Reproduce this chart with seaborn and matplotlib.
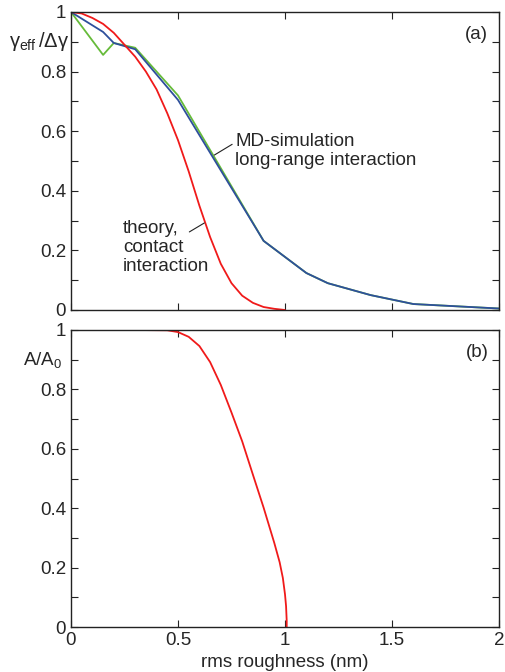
import numpy as np
import pandas as pd
import seaborn as sns
import matplotlib.pyplot as plt
from matplotlib.ticker import MultipleLocator

sns.set_style('ticks')
plt.rcParams['font.family'] = ['Liberation Sans', 'DejaVu Sans']
plt.rcParams['mathtext.fontset'] = 'custom'
plt.rcParams['mathtext.rm'] = 'Liberation Sans'
plt.rcParams['mathtext.it'] = 'Liberation Sans'

# panel (a): MD simulation, two runs
md_x = [0, 0.15, 0.2, 0.3, 0.5, 0.9, 1.1, 1.2, 1.4, 1.6, 2.0]
md_blue = [1.0, 0.933, 0.896, 0.875, 0.705, 0.232, 0.124, 0.09, 0.05, 0.02, 0.005]
md_green = [1.0, 0.856, 0.896, 0.88, 0.72, 0.232, 0.124, 0.09, 0.05, 0.02, 0.005]

# panel (a): theory, contact interaction
th_x = [0, 0.05, 0.1, 0.15, 0.2, 0.25, 0.3, 0.35, 0.4, 0.45, 0.5, 0.55,
        0.6, 0.65, 0.7, 0.75, 0.8, 0.85, 0.9, 0.95, 1.0]
th_y = [1.0, 0.995, 0.98, 0.96, 0.93, 0.89, 0.85, 0.80, 0.74, 0.66, 0.57, 0.465,
        0.35, 0.245, 0.155, 0.09, 0.048, 0.024, 0.01, 0.004, 0.0]

# panel (b): contact area
area_x = [0.05, 0.3, 0.45, 0.5, 0.55, 0.6, 0.65, 0.7, 0.75, 0.8, 0.85,
          0.9, 0.95, 0.975, 0.99, 1.0, 1.005, 1.008, 1.008]
area_y = [1.0, 1.0, 0.999, 0.993, 0.977, 0.946, 0.892, 0.815, 0.722, 0.625, 0.513,
          0.402, 0.283, 0.218, 0.165, 0.11, 0.07, 0.02, 0.0]

red = '#f01a1a'
blue = '#2e4f9c'
green = '#66bb3a'
fs = 13.5

fig = plt.figure(figsize=(5.06, 6.72), dpi=100)
ax1 = fig.add_axes([71/506, 1-310/672, 428/506, 298/672])
ax2 = fig.add_axes([71/506, 1-627/672, 428/506, 297/672])

sns.lineplot(x=md_x, y=md_green, ax=ax1, color=green, lw=1.3, sort=False, estimator=None)
sns.lineplot(x=md_x, y=md_blue, ax=ax1, color=blue, lw=1.3, sort=False, estimator=None)
sns.lineplot(x=th_x, y=th_y, ax=ax1, color=red, lw=1.3, sort=False, estimator=None)
sns.lineplot(x=area_x, y=area_y, ax=ax2, color=red, lw=1.3, sort=False, estimator=None)

for ax in (ax1, ax2):
    ax.set_xlim(0, 2)
    ax.set_ylim(0, 1)
    ax.xaxis.set_major_locator(MultipleLocator(0.5))
    ax.yaxis.set_major_locator(MultipleLocator(0.2))
    ax.yaxis.set_minor_locator(MultipleLocator(0.1))
    ax.tick_params(which='both', direction='in', top=True, right=True,
                   labelsize=fs, width=0.8, color='#222222', length=5)
    ax.yaxis.set_major_formatter(plt.FuncFormatter(lambda v, p: f'{v:g}'))
    ax.xaxis.set_major_formatter(plt.FuncFormatter(lambda v, p: f'{v:g}'))
    for s in ax.spines.values():
        s.set_visible(True)
        s.set_linewidth(1.0)
        s.set_color('#222222')
    ax.set_xlabel('')
    ax.set_ylabel('')

ax1.tick_params(labelbottom=False)
ax2.set_xlabel('rms roughness (nm)', fontsize=fs)

ax1.text(-0.005, 0.9, r'$\gamma_{\rm eff}\,/\Delta\gamma$', fontsize=fs + 1,
         transform=ax1.transAxes, ha='right', va='center')
ax2.text(-0.02, 0.9, r'A/A$_0$', fontsize=fs,
         transform=ax2.transAxes, ha='right', va='center')
ax1.text(0.975, 0.925, '(a)', fontsize=fs, transform=ax1.transAxes, ha='right', va='center')
ax2.text(0.975, 0.925, '(b)', fontsize=fs, transform=ax2.transAxes, ha='right', va='center')

# text labels with short leader lines
ax1.text(0.767, 0.534, 'MD-simulation\nlong-range interaction', fontsize=fs,
         ha='left', va='center', linespacing=1.15)
ax1.annotate('', xy=(0.67, 0.52), xytext=(0.753, 0.556),
             arrowprops=dict(arrowstyle='-', color='#222222', lw=0.8, shrinkA=0, shrinkB=0))
ax1.text(0.242, 0.211, 'theory,\ncontact\ninteraction', fontsize=fs,
         ha='left', va='center', linespacing=1.15)
ax1.annotate('', xy=(0.623, 0.292), xytext=(0.553, 0.262),
             arrowprops=dict(arrowstyle='-', color='#222222', lw=0.8, shrinkA=0, shrinkB=0))

fig.savefig('out.png', dpi=100)
